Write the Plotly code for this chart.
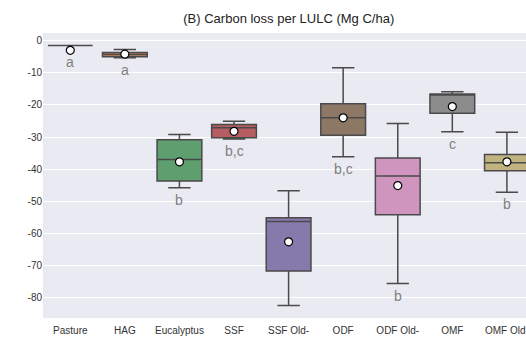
import plotly.graph_objects as go

categories = ["Pasture", "HAG", "Eucalyptus", "SSF", "SSF Old-", "ODF", "ODF Old-", "OMF", "OMF Old-"]
tick_text = ["Pasture", "HAG", "Eucalyptus", "SSF<br>secondary", "SSF Old-<br>growth",
             "ODF<br>Secondary", "ODF Old-<br>growth", "OMF<br>secondary", "OMF Old-<br>growth"]
y_tick_vals = [0, -10, -20, -30, -40, -50, -60, -70, -80]
y_tick_text = ["0", "-10", "-20", "-30", "-40", "-50", "-60", "-70", "-80"]
lower_whisker = [-1.5, -5.3, -45.8, -30.6, -82.4, -36.1, -75.6, -28.3, -47.2]
q1_vals = [-1.5, -5.0, -43.7, -30.2, -71.7, -29.4, -54.2, -22.6, -40.5]
median_vals = [-1.5, -4.3, -37.0, -27.1, -56.3, -24.0, -42.1, -16.9, -38.0]
q3_vals = [-1.5, -3.7, -30.8, -26.1, -55.1, -19.6, -36.5, -16.6, -35.4]
upper_whisker = [-1.5, -2.7, -29.2, -25.1, -46.7, -8.4, -25.8, -15.9, -28.5]
mean_vals = [-3.0, -4.2, -37.7, -28.2, -62.6, -24.0, -45.1, -20.5, -37.7]
group_letters = ["a", "a", "b", "b,c", "", "b,c", "b", "c", "b"]
colors = ["#5875A3", "#CC8963", "#5F9E6E", "#B55D60", "#857AAB", "#8D7866", "#D095BF", "#8C8C8C", "#C1B37F"]

fig = go.Figure()
for i, cat in enumerate(categories):
    fig.add_trace(go.Box(
        x=[cat], q1=[q1_vals[i]], median=[median_vals[i]], q3=[q3_vals[i]],
        lowerfence=[lower_whisker[i]], upperfence=[upper_whisker[i]],
        fillcolor=colors[i], line=dict(color="#4a4a4a", width=1.5),
        width=0.82, whiskerwidth=0.5, boxpoints=False, showlegend=False,
        hoverinfo="skip",
    ))

fig.add_trace(go.Scatter(
    x=categories, y=mean_vals, mode="markers", showlegend=False,
    marker=dict(color="white", size=8, line=dict(color="black", width=1.2)),
))

for i, cat in enumerate(categories):
    if group_letters[i]:
        fig.add_annotation(
            x=cat, y=min(lower_whisker[i], mean_vals[i]), text=group_letters[i],
            showarrow=False, yanchor="top", yshift=-2,
            font=dict(size=14, color="#808080", family="Liberation Sans, Arial, sans-serif"),
        )

fig.update_layout(
    width=526, height=338,
    margin=dict(l=43, r=0, t=33, b=20, autoexpand=False),
    paper_bgcolor="white", plot_bgcolor="#EAEAF2",
    boxmode="overlay",
    title=dict(text="(B) Carbon loss per LULC (Mg C/ha)", x=0.549, xref="container",
               xanchor="center", y=1 - 18 / 338, yref="container", yanchor="middle",
               font=dict(size=13, color="#222222", family="Liberation Sans, Arial, sans-serif")),
    font=dict(family="Liberation Sans, Arial, sans-serif", color="#333333", size=10),
)
fig.update_xaxes(
    type="category", categoryorder="array", categoryarray=categories,
    tickvals=categories, ticktext=tick_text, automargin=False, ticklabelstandoff=5,
    range=[-0.5, 8.35], showgrid=False, zeroline=False, showline=False, ticks="",
    tickfont=dict(size=10, color="#333333"),
)
fig.update_yaxes(
    range=[-86.3, 2.4], tickvals=y_tick_vals, ticktext=y_tick_text,
    automargin=False,
    showgrid=True, gridcolor="white", gridwidth=1, zeroline=False, showline=False,
    ticks="", tickfont=dict(size=10, color="#333333"),
)

fig.write_html("out.html", config={"displayModeBar": False},
               post_script="document.body.style.margin='0';document.body.style.overflow='hidden';")
